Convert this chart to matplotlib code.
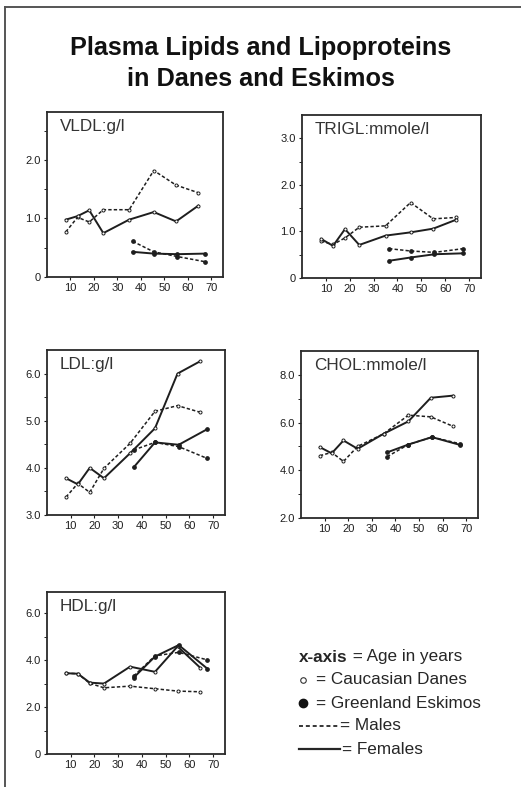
import numpy as np
import matplotlib
matplotlib.use("Agg")
import matplotlib.pyplot as plt
from matplotlib.lines import Line2D

plt.rcParams['font.family'] = ['Liberation Sans', 'DejaVu Sans']

# ages of the age groups
age_danes = [8, 13, 18, 24, 35, 45.5, 55, 64.5]
age_eskimo = [36.5, 45.5, 55.5, 67.5]

# VLDL g/l
vldl_dan_m = [0.77, 1.02, 0.94, 1.15, 1.15, 1.82, 1.57, 1.44]
vldl_dan_f = [0.98, 1.04, 1.14, 0.75, 0.98, 1.11, 0.95, 1.22]
vldl_esk_m = [0.61, 0.43, 0.35, 0.26]
vldl_esk_f = [0.43, 0.40, 0.39, 0.40]

# TRIGL mmole/l
trigl_dan_m = [0.79, 0.72, 0.86, 1.09, 1.12, 1.62, 1.27, 1.30]
trigl_dan_f = [0.84, 0.69, 1.05, 0.71, 0.91, 0.98, 1.06, 1.25]
trigl_esk_m = [0.63, 0.58, 0.55, 0.63]
trigl_esk_f = [0.37, 0.44, 0.51, 0.53]

# LDL g/l
ldl_dan_m = [3.38, 3.67, 3.48, 3.99, 4.52, 5.20, 5.32, 5.18]
ldl_dan_f = [3.78, 3.65, 4.00, 3.78, 4.31, 4.84, 6.00, 6.26]
ldl_esk_m = [4.38, 4.54, 4.45, 4.20]
ldl_esk_f = [4.01, 4.54, 4.49, 4.82]

# CHOL mmole/l
chol_dan_m = [4.61, 4.75, 4.37, 5.00, 5.53, 6.31, 6.24, 5.84]
chol_dan_f = [4.97, 4.71, 5.25, 4.90, 5.53, 6.05, 7.04, 7.13]
chol_esk_m = [4.57, 5.08, 5.39, 5.11]
chol_esk_f = [4.75, 5.08, 5.39, 5.06]

# HDL g/l
hdl_dan_m = [3.44, 3.42, 3.01, 2.82, 2.89, 2.78, 2.68, 2.65]
hdl_dan_f = [3.44, 3.42, 3.04, 3.00, 3.72, 3.50, 4.58, 3.68]
hdl_esk_m = [3.32, 4.18, 4.33, 4.01]
hdl_esk_f = [3.25, 4.15, 4.64, 3.64]

W, H = 521, 787
INK = '#1e1e1e'

fig = plt.figure(figsize=(W / 100, H / 100), dpi=100)
fig.patch.set_facecolor('white')
# invisible full-figure axes, used for the key annotations
bg = fig.add_axes([0, 0, 1, 1])
bg.axis('off')

# outer frame (top and left only)
fig.add_artist(Line2D([5 / W, 5 / W], [0, 1 - 7 / H], color='#555555', lw=1.4))
fig.add_artist(Line2D([5 / W, 1], [1 - 7 / H, 1 - 7 / H], color='#555555', lw=1.4))

fig.text(0.5, 1 - 48 / H, 'Plasma Lipids and Lipoproteins', ha='center', va='center',
         fontsize=18.2, fontweight='bold', color='#111111')
fig.text(0.5, 1 - 79 / H, 'in Danes and Eskimos', ha='center', va='center',
         fontsize=18.2, fontweight='bold', color='#111111')


def panel(box, title, ylim, yticks, ylabels, yminor, dm, df, em, ef):
    l, t, r, b = box
    ax = fig.add_axes([l / W, 1 - b / H, (r - l) / W, (b - t) / H])
    ax.plot(age_danes, dm, ls=(0, (2.2, 1.4)), lw=1.1, color=INK,
            marker='o', ms=2.2, mfc='white', mec=INK, mew=0.7)
    ax.plot(age_danes, df, ls='-', lw=1.4, color=INK,
            marker='o', ms=2.2, mfc='white', mec=INK, mew=0.7)
    ax.plot(age_eskimo, em, ls=(0, (2.2, 1.4)), lw=1.1, color=INK,
            marker='o', ms=2.4, mfc=INK, mec=INK)
    ax.plot(age_eskimo, ef, ls='-', lw=1.4, color=INK,
            marker='o', ms=2.4, mfc=INK, mec=INK)
    ax.set_xlim(0, 75)
    ax.set_ylim(*ylim)
    ax.set_xticks([10, 20, 30, 40, 50, 60, 70])
    ax.set_yticks(yticks)
    ax.set_yticklabels(ylabels)
    ax.set_yticks(yminor, minor=True)
    ax.tick_params(axis='both', which='major', direction='out', length=2.5,
                   width=0.8, labelsize=8, colors=INK, pad=2)
    ax.tick_params(axis='y', which='minor', direction='out', length=2, width=0.6)
    for s in ax.spines.values():
        s.set_linewidth(1.3)
        s.set_color('#2a2a2a')
    ax.text(13 / (r - l), 1 - 7 / (b - t), title, transform=ax.transAxes,
            ha='left', va='top', fontsize=12.3, color='#333333')
    return ax


panel((47, 112, 223, 277), 'VLDL:g/l', (0, 2.82), [0, 1, 2], ['0', '1.0', '2.0'],
      [0.5, 1.5, 2.5], vldl_dan_m, vldl_dan_f, vldl_esk_m, vldl_esk_f)
panel((302, 115, 481, 278), 'TRIGL:mmole/l', (0, 3.5), [0, 1, 2, 3],
      ['0', '1.0', '2.0', '3.0'], [0.5, 1.5, 2.5],
      trigl_dan_m, trigl_dan_f, trigl_esk_m, trigl_esk_f)
panel((47, 350, 225, 515), 'LDL:g/l', (3.0, 6.5), [3, 4, 5, 6],
      ['3.0', '4.0', '5.0', '6.0'], [3.5, 4.5, 5.5],
      ldl_dan_m, ldl_dan_f, ldl_esk_m, ldl_esk_f)
panel((301, 351, 478, 518), 'CHOL:mmole/l', (2, 9), [2, 4, 6, 8],
      ['2.0', '4.0', '6.0', '8.0'], [3, 5, 7],
      chol_dan_m, chol_dan_f, chol_esk_m, chol_esk_f)
panel((47, 592, 225, 754), 'HDL:g/l', (0, 6.9), [0, 2, 4, 6],
      ['0', '2.0', '4.0', '6.0'], [1, 3, 5],
      hdl_dan_m, hdl_dan_f, hdl_esk_m, hdl_esk_f)

# key
kx = 299 / W
fs = 12.3
tc = '#262626'
y0 = 1 - 657 / H
dy = 23 / H
t1 = bg.text(kx, y0, 'x-axis', fontsize=fs, fontweight='bold', va='center', color=tc)
bg.annotate(' = Age in years', xy=(1, 0.5), xycoords=t1, va='center',
            fontsize=fs, color=tc)
bg.plot([kx + 4 / W], [y0 - dy], marker='o', ms=4, mfc='white',
        mec='#333333', mew=0.8)
bg.text(kx + 17 / W, y0 - dy, '= Caucasian Danes', fontsize=fs, va='center', color=tc)
bg.plot([kx + 4 / W], [y0 - 2 * dy], marker='o', ms=6, mfc='#111111', mec='#111111')
bg.text(kx + 17 / W, y0 - 2 * dy, '= Greenland Eskimos', fontsize=fs, va='center', color=tc)
bg.plot([kx, kx + 41 / W], [y0 - 3 * dy] * 2, ls=(0, (2.2, 1.6)), lw=1.3, color=tc)
bg.text(kx + 41 / W, y0 - 3 * dy, '= Males', fontsize=fs, va='center', color=tc)
bg.plot([kx, kx + 41 / W], [y0 - 4 * dy] * 2, ls='-', lw=1.6, color=tc)
bg.text(kx + 43 / W, y0 - 4 * dy, '= Females', fontsize=fs, va='center', color=tc)
bg.set_xlim(0, 1)
bg.set_ylim(0, 1)

fig.savefig('out.png', dpi=100, facecolor='white')
